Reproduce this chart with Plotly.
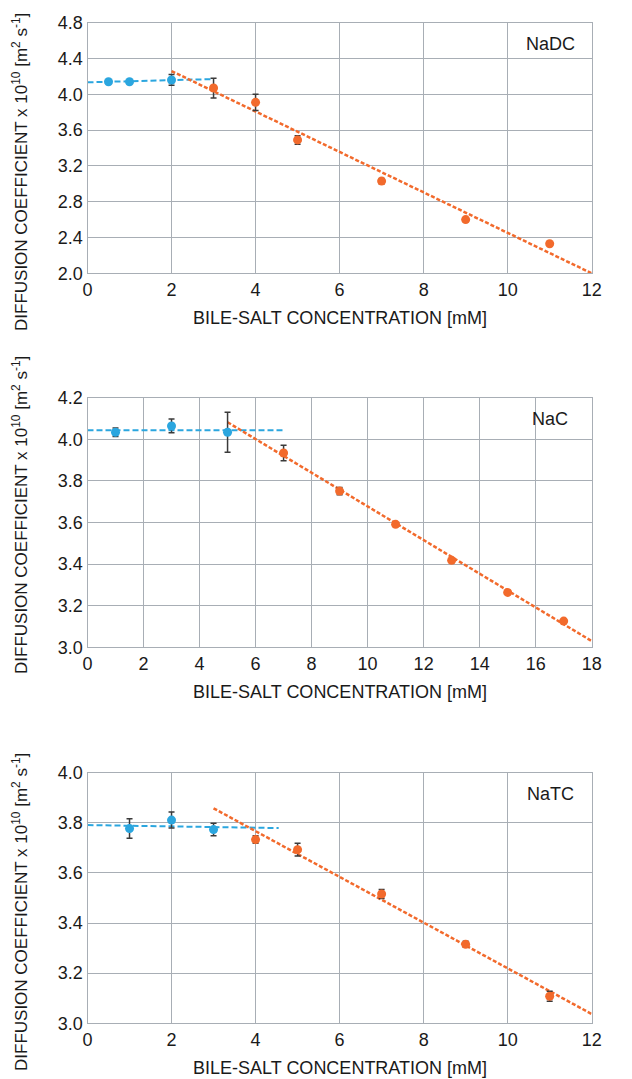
import plotly.graph_objects as go

W, H = 632, 1079

# ---------------- data ----------------
# NaDC
nadc_pre_x = [0.5, 1, 2]
nadc_pre_y = [4.14, 4.14, 4.16]
nadc_pre_err = [0.0, 0.0, 0.06]
nadc_post_x = [3, 4, 5, 7, 9, 11]
nadc_post_y = [4.07, 3.91, 3.49, 3.03, 2.60, 2.33]
nadc_post_err = [0.11, 0.09, 0.047, 0.03, 0.02, 0.0]
nadc_fit_pre_x = [0, 3]
nadc_fit_pre_y = [4.134, 4.17]
nadc_fit_post_x = [2, 12]
nadc_fit_post_y = [4.26, 2.0]

# NaC
nac_pre_x = [1, 3, 5]
nac_pre_y = [4.034, 4.064, 4.034]
nac_pre_err = [0.02, 0.033, 0.096]
nac_post_x = [7, 9, 11, 13, 15, 17]
nac_post_y = [3.934, 3.751, 3.591, 3.418, 3.264, 3.126]
nac_post_err = [0.037, 0.017, 0.0, 0.0, 0.0, 0.0]
nac_fit_pre_x = [0, 7]
nac_fit_pre_y = [4.043, 4.044]
nac_fit_post_x = [5, 18]
nac_fit_post_y = [4.082, 3.030]

# NaTC
natc_pre_x = [1, 2, 3]
natc_pre_y = [3.777, 3.811, 3.773]
natc_pre_err = [0.039, 0.032, 0.025]
natc_post_x = [4, 5, 7, 9, 11]
natc_post_y = [3.733, 3.693, 3.516, 3.315, 3.108]
natc_post_err = [0.015, 0.025, 0.018, 0.012, 0.02]
natc_fit_pre_x = [0, 4.55]
natc_fit_pre_y = [3.791, 3.779]
natc_fit_post_x = [3, 12]
natc_fit_post_y = [3.858, 3.037]

panel_names = ["NaDC", "NaC", "NaTC"]
x_ranges = [[0, 12], [0, 18], [0, 12]]
x_dticks = [2, 2, 2]
y_ranges = [[2.0, 4.8], [3.0, 4.2], [3.0, 4.0]]
y_dticks = [0.4, 0.2, 0.2]
y_tickformats = [".1f", ".1f", ".1f"]

x_title = "BILE-SALT CONCENTRATION [mM]"
y_title = "DIFFUSION COEFFICIENT x 10<sup>10</sup> [m<sup>2</sup> s<sup>-1</sup>]"

# ---------------- styling ----------------
BLUE = "#2ba6df"
ORANGE = "#f26a2c"
ERR = "#3a3a3a"
GRID = "#a8aeb5"
FONT = "Liberation Sans, Arial, sans-serif"
TXT = "#1a1a1a"

# plot-area pixel boxes (left, top, right, bottom)
px_left, px_right = 87.5, 591.7
px_tops = [22.7, 397.7, 772.7]
px_bots = [273.3, 647.3, 1023.3]
ytitle_centers = [172, 515, 912]

def fx(p):
    return p / W

def fy(p):
    return 1 - p / H

panels = [
    (nadc_pre_x, nadc_pre_y, nadc_pre_err, nadc_post_x, nadc_post_y, nadc_post_err,
     nadc_fit_pre_x, nadc_fit_pre_y, nadc_fit_post_x, nadc_fit_post_y),
    (nac_pre_x, nac_pre_y, nac_pre_err, nac_post_x, nac_post_y, nac_post_err,
     nac_fit_pre_x, nac_fit_pre_y, nac_fit_post_x, nac_fit_post_y),
    (natc_pre_x, natc_pre_y, natc_pre_err, natc_post_x, natc_post_y, natc_post_err,
     natc_fit_pre_x, natc_fit_pre_y, natc_fit_post_x, natc_fit_post_y),
]

fig = go.Figure()
layout = dict(
    width=W, height=H,
    margin=dict(l=0, r=0, t=0, b=0),
    paper_bgcolor="white", plot_bgcolor="white",
    showlegend=False,
    font=dict(family=FONT, size=18, color=TXT),
)
annotations = []

for i, p in enumerate(panels):
    (pre_x, pre_y, pre_e, post_x, post_y, post_e, fpx, fpy, fqx, fqy) = p
    suffix = "" if i == 0 else str(i + 1)
    xa, ya = "x" + suffix, "y" + suffix

    fig.add_trace(go.Scatter(x=fpx, y=fpy, mode="lines", xaxis=xa, yaxis=ya,
                             line=dict(color=BLUE, width=2, dash="6px,3px")))
    fig.add_trace(go.Scatter(x=fqx, y=fqy, mode="lines", xaxis=xa, yaxis=ya,
                             line=dict(color=ORANGE, width=2.5, dash="4px,2px")))
    fig.add_trace(go.Scatter(x=pre_x, y=pre_y, mode="markers", xaxis=xa, yaxis=ya,
                             marker=dict(color=BLUE, size=9),
                             error_y=dict(type="data", array=pre_e, color=ERR,
                                          thickness=1.5, width=3)))
    fig.add_trace(go.Scatter(x=post_x, y=post_y, mode="markers", xaxis=xa, yaxis=ya,
                             marker=dict(color=ORANGE, size=9),
                             error_y=dict(type="data", array=post_e, color=ERR,
                                          thickness=1.5, width=3)))

    ax_common = dict(showgrid=True, gridcolor=GRID, gridwidth=1.2,
                     showline=True, linecolor=GRID, linewidth=1.2, mirror=True,
                     zeroline=False, ticks="", automargin=False,
                     tickfont=dict(family=FONT, size=18, color=TXT))
    layout["xaxis" + suffix] = dict(
        ax_common, range=x_ranges[i], dtick=x_dticks[i], tick0=0,
        domain=[fx(px_left), fx(px_right)], anchor=ya)
    layout["yaxis" + suffix] = dict(
        ax_common, range=y_ranges[i], dtick=y_dticks[i], tick0=y_ranges[i][0],
        tickformat=y_tickformats[i],
        domain=[fy(px_bots[i]), fy(px_tops[i])], anchor=xa)

    # panel label
    annotations.append(dict(
        text=panel_names[i], xref="paper", yref="paper",
        x=fx(550), y=fy(px_tops[i] + 21), xanchor="center", yanchor="middle",
        showarrow=False, font=dict(family=FONT, size=18, color=TXT)))
    # x-axis title
    annotations.append(dict(
        text=x_title, xref="paper", yref="paper",
        x=fx((px_left + px_right) / 2), y=fy(px_bots[i] + 45),
        xanchor="center", yanchor="middle", showarrow=False,
        font=dict(family=FONT, size=18, color=TXT)))
    # y-axis title
    annotations.append(dict(
        text=y_title, xref="paper", yref="paper", textangle=-90,
        x=fx(20), y=fy(ytitle_centers[i]), xanchor="center", yanchor="middle",
        showarrow=False, font=dict(family=FONT, size=17, color=TXT)))

layout["annotations"] = annotations
fig.update_layout(**layout)
fig.write_html("out.html")
